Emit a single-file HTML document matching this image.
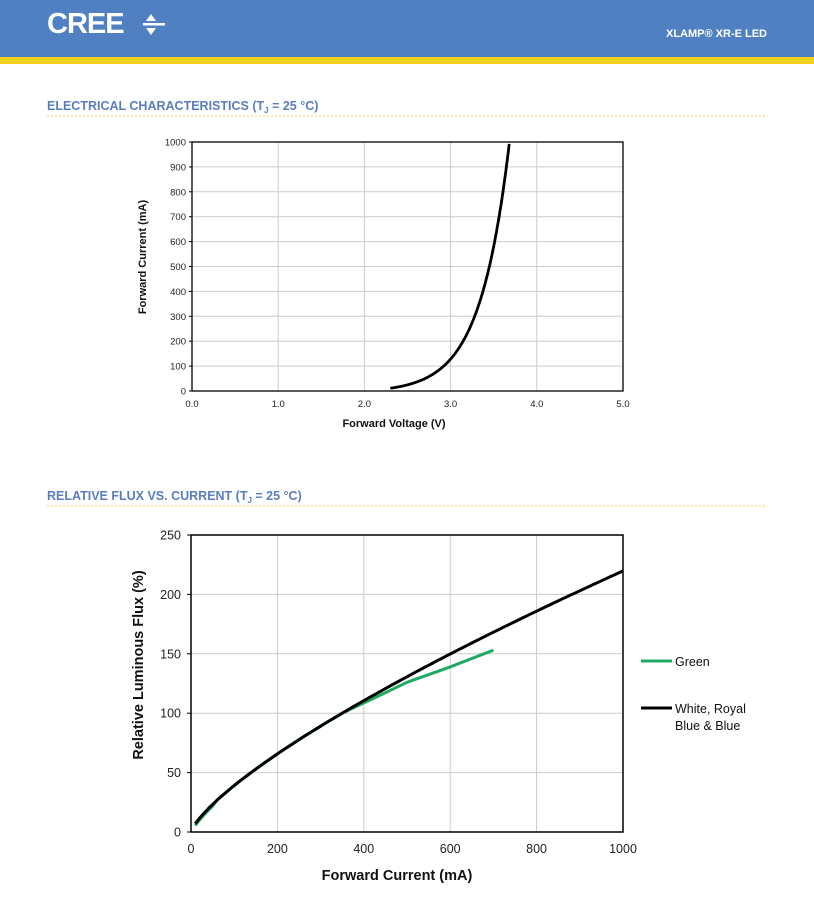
<!DOCTYPE html>
<html><head><meta charset="utf-8"><style>
body{margin:0;background:#fff;width:814px;height:913px;overflow:hidden;font-family:"Liberation Sans",sans-serif}
</style></head><body>
<svg id="s" width="814" height="913" viewBox="0 0 814 913" xmlns="http://www.w3.org/2000/svg" font-family="Liberation Sans, sans-serif">
<rect x="0" y="0" width="814" height="58" fill="#5180c2"/>
<rect x="0" y="57" width="814" height="7" fill="#f3d01e"/>
<text x="47" y="33" font-size="29" font-weight="bold" fill="#fff" letter-spacing="-1">CREE</text>
<polygon points="146,21 156,21 151,14" fill="#fff"/>
<rect x="143" y="23" width="22" height="2.5" fill="#fff"/>
<polygon points="146,28 156,28 151,35" fill="#fff"/>
<text x="767" y="37" font-size="11" font-weight="bold" fill="#fff" text-anchor="end">XLAMP® XR-E LED</text>
<text x="47" y="110" font-size="12.5" font-weight="bold" fill="#5b7dbd">ELECTRICAL CHARACTERISTICS (T<tspan font-size="8" dy="3">J</tspan><tspan dy="-3"> = 25 °C)</tspan></text>
<line x1="47" y1="116" x2="767" y2="116" stroke="#ecd35a" stroke-dasharray="2,2" stroke-width="1"/>
<text x="47" y="500" font-size="12.5" font-weight="bold" fill="#5b7dbd">RELATIVE FLUX VS. CURRENT (T<tspan font-size="8" dy="3">J</tspan><tspan dy="-3"> = 25 °C)</tspan></text>
<line x1="47" y1="506" x2="767" y2="506" stroke="#ecd35a" stroke-dasharray="2,2" stroke-width="1"/>
<g id="c1"></g><g id="c2"></g>
<text x="394" y="427" font-size="11" font-weight="bold" text-anchor="middle" fill="#111">Forward Voltage (V)</text>
<text transform="translate(146,257) rotate(-90)" font-size="11" font-weight="bold" text-anchor="middle" fill="#111">Forward Current (mA)</text>
<text x="397" y="880" font-size="14.5" font-weight="bold" text-anchor="middle" fill="#111">Forward Current (mA)</text>
<text transform="translate(143,665) rotate(-90)" font-size="14.5" font-weight="bold" text-anchor="middle" fill="#111">Relative Luminous Flux (%)</text>
<line x1="641" y1="661" x2="672" y2="661" stroke="#1faa63" stroke-width="3"/>
<text x="675" y="666" font-size="12.5" fill="#111">Green</text>
<line x1="641" y1="708" x2="672" y2="708" stroke="#000" stroke-width="3"/>
<text x="675" y="713" font-size="12.5" fill="#111">White, Royal</text>
<text x="675" y="730" font-size="12.5" fill="#111">Blue &amp; Blue</text>
</svg>
<script>
var NS="http://www.w3.org/2000/svg";
function el(p,t,a,txt){var e=document.createElementNS(NS,t);for(var k in a)e.setAttribute(k,a[k]);if(txt!=null)e.textContent=txt;p.appendChild(e);return e;}
var g=document.getElementById("c1");
var L=192,R=623,T=142,B=391;
for(var i=0;i<=10;i++){var y=B-(B-T)*i/10;el(g,"line",{x1:L,x2:R,y1:y,y2:y,stroke:"#ccc"});el(g,"line",{x1:L-3,x2:L,y1:y,y2:y,stroke:"#000"});el(g,"text",{x:L-6,y:y+3.5,"font-size":9.5,"text-anchor":"end",fill:"#222"},String(i*100));}
for(var i=0;i<=5;i++){var x=L+(R-L)*i/5;el(g,"line",{x1:x,x2:x,y1:T,y2:B,stroke:"#ccc"});el(g,"text",{x:x,y:B+16,"font-size":9.5,"text-anchor":"middle",fill:"#222"},i+".0");}
el(g,"rect",{x:L,y:T,width:R-L,height:B-T,fill:"none",stroke:"#000","stroke-width":1.3});
var d="";var first=true;
for(var V=2.3;V<=3.681;V+=0.01){var I=100*Math.exp(2.95*(V-2.9))-6;if(I>1000)I=1000;var x=L+(R-L)*V/5,y=B-(B-T)*I/1000;d+=(first?"M":"L")+x.toFixed(1)+","+y.toFixed(1);first=false;}
el(g,"path",{d:d,fill:"none",stroke:"#000","stroke-width":2.8,"stroke-linejoin":"round"});
g=document.getElementById("c2");
L=191;R=623;T=535;B=832;
for(var i=0;i<=5;i++){var y=B-(B-T)*i/5;el(g,"line",{x1:L,x2:R,y1:y,y2:y,stroke:"#ccc"});el(g,"line",{x1:L-4,x2:L,y1:y,y2:y,stroke:"#000"});el(g,"text",{x:L-10,y:y+4.5,"font-size":12.5,"text-anchor":"end",fill:"#222"},String(i*50));}
for(var i=0;i<=5;i++){var x=L+(R-L)*i/5;el(g,"line",{x1:x,x2:x,y1:T,y2:B,stroke:"#ccc"});el(g,"text",{x:x,y:B+21,"font-size":12.5,"text-anchor":"middle",fill:"#222"},String(i*200));}
el(g,"rect",{x:L,y:T,width:R-L,height:B-T,fill:"none",stroke:"#000","stroke-width":1.5});
function X(I){return L+(R-L)*I/1000;}function Y(f){return B-(B-T)*f/250;}
var dg="";var gp=[];for(var I=10;I<=350;I+=10)gp.push([I,100*Math.pow(I/350,0.75)-(I<60?1.5:0)]);
gp.push([420,112],[500,126],[600,139],[700,153]);
gp.forEach(function(p,j){dg+=(j?"L":"M")+X(p[0]).toFixed(1)+","+Y(p[1]).toFixed(1);});
el(g,"path",{d:dg,fill:"none",stroke:"#1faa63","stroke-width":3,"stroke-linejoin":"round"});
var db="";for(var I=10;I<=1000;I+=10){db+=(I>10?"L":"M")+X(I).toFixed(1)+","+Y(100*Math.pow(I/350,0.75)).toFixed(1);}
el(g,"path",{d:db,fill:"none",stroke:"#000","stroke-width":3,"stroke-linejoin":"round"});
</script>
</body></html>
